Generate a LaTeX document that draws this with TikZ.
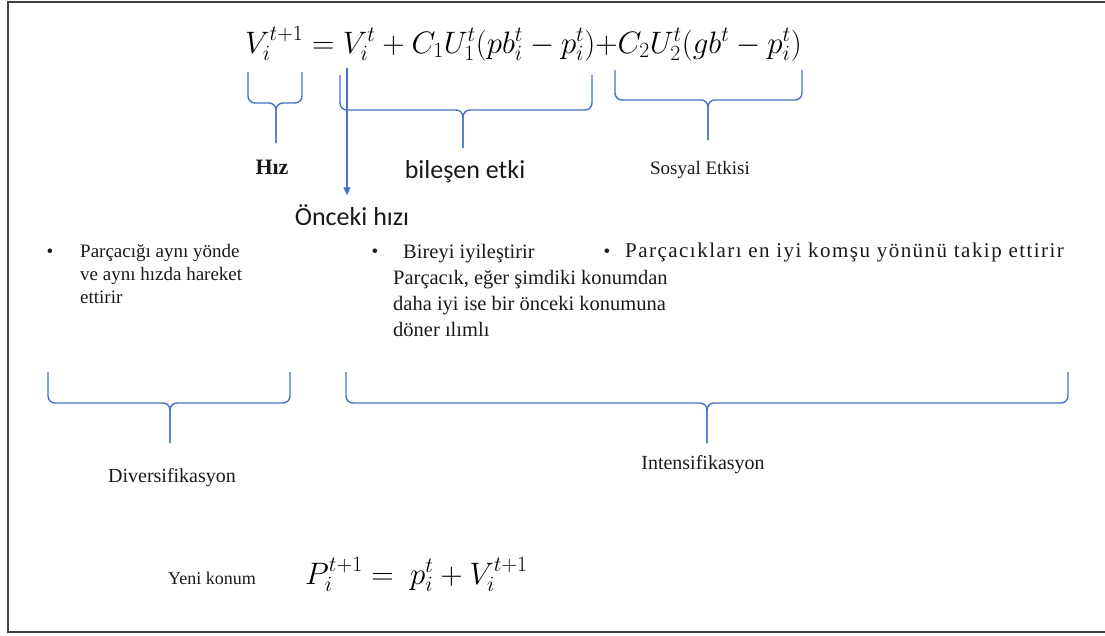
\RequirePackage{fix-cm}
\documentclass[tikz,border=0pt]{standalone}
\usepackage{amsmath}
\usepackage{fontspec}
\setmainfont{Liberation Serif}
\newfontfamily\calibfont{Carlito}
\usetikzlibrary{arrows.meta,positioning}

\definecolor{braceblue}{RGB}{68,114,196}
\definecolor{framegray}{RGB}{64,64,64}

% under-brace: x-left, x-right, x-tip, y-top, y-bottom, y-stem
\newcommand{\ubrace}[6]{%
  \draw[brace] (#1,#4) -- (#1,#5) -- (#3,#5) -- (#3,#6);
  \draw[brace] (#2,#4) -- (#2,#5) -- (#3,#5) -- (#3,#6);
}

\begin{document}
\begin{tikzpicture}[
    x=1pt, y=-1pt,
    brace/.style={draw=braceblue, line width=1.4pt, rounded corners=7pt},
    arr/.style={-{Triangle[length=8pt,width=7pt]}, draw=braceblue, line width=1.1pt},
    serif/.style={inner sep=0pt, text=black!90, font=\fontsize{19}{23}\selectfont},
    sans/.style={inner sep=0pt, text=black!90, font=\calibfont\fontsize{26}{30}\selectfont},
    eqn/.style={inner sep=0pt, font=\fontsize{31}{36}\selectfont},
    bullet/.style={serif, anchor=north west, align=left},
]
\useasboundingbox (0,0) rectangle (1105,635);
% frame
\draw[framegray, line width=2pt] (1110,2) -| (8,632) -- (1110,632);

% velocity update
\node[eqn, anchor=base west] (veq) at (245,53)
    {$V_i^{t+1} = V_i^t + C_1U_1^t(pb_i^t - p_i^t){+}C_2U_2^t(gb^t - p_i^t)$};

% braces under the terms
\ubrace{248}{302}{276}{72}{103}{143}
\ubrace{340}{592}{463}{75}{110}{148}
\ubrace{615}{802}{708}{70}{100}{140}

\node[serif, font=\bfseries\fontsize{22}{26}\selectfont] (speed) at (272,167) {Hız};
\node[sans] (compeff) at (465,172) {bileşen etki};
\node[serif] (soceff) at (700,170) {Sosyal Etkisi};

% previous velocity
\coordinate (vprev) at (347,68);
\node[sans] (prevvel) at (352,215) {Önceki hızı};
\draw[arr, shorten >=9pt] (vprev) -- (vprev |- prevvel.north);

% bullet texts
\node[serif] (dot1) at (50,253) {•};
\node[bullet] (diver) at (80,244) {Parçacığı aynı yönde\\ve aynı hızda hareket\\ettirir};
\node[serif] (dot2) at (375,253) {•};
\node[bullet, font=\fontsize{20.5}{26}\selectfont] (cogn) at (393,244)
    {\hspace*{10pt}Bireyi iyileştirir\\Parçacık, eğer şimdiki konumdan\\daha iyi ise bir önceki konumuna\\döner ılımlı};
\node[serif] (dot3) at (607,253) {•};
\node[bullet, font=\fontsize{21}{25}\selectfont\addfontfeature{LetterSpace=7}] (socl) at (625,243)
    {Parçacıkları en iyi komşu yönünü takip ettirir};

% lower braces
\ubrace{48}{290}{170}{372}{403}{443}
\ubrace{346}{1068}{707}{372}{403}{443}

\node[serif, font=\fontsize{20}{24}\selectfont] (divers) at (172,478) {Diversifikasyon};
\node[serif, font=\fontsize{20}{24}\selectfont] (intens) at (703,465) {Intensifikasyon};

% position update
\node[serif, anchor=base west, font=\fontsize{18}{22}\selectfont] (newpos) at (168,584) {Yeni konum};
\node[eqn, anchor=base west] (peq) at (305,584)
    {$P_i^{t+1} =\ p_i^t + V_i^{t+1}$};

\end{tikzpicture}
\end{document}
